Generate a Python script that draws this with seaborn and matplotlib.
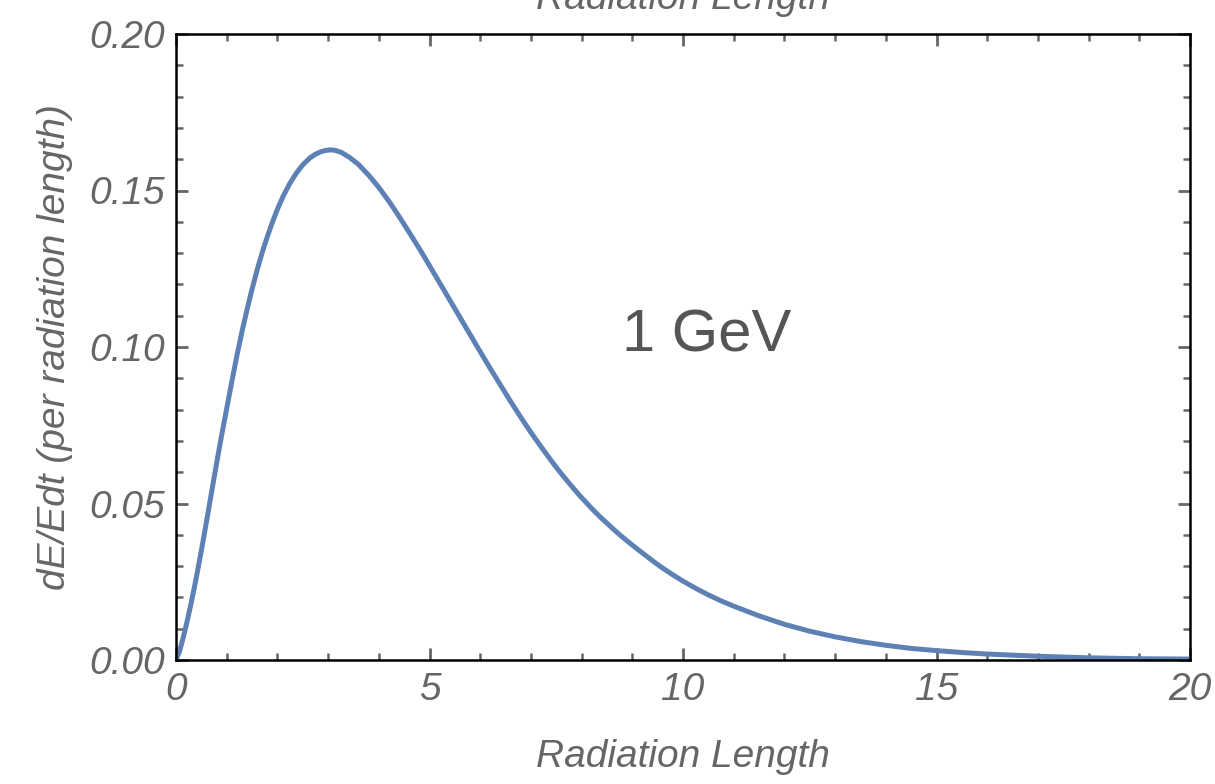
import matplotlib
matplotlib.use("Agg")
import matplotlib.pyplot as plt
from matplotlib.ticker import MultipleLocator, FormatStrFormatter
import pandas as pd
import seaborn as sns

# Longitudinal shower profile of a 1 GeV electron: depth (radiation lengths)
# and energy deposited per radiation length.
depth = [0.0, 0.07, 0.14, 0.2, 0.28, 0.36, 0.42, 0.48, 0.54, 0.6, 0.66,
         0.74, 0.82, 0.9, 1.0, 1.1, 1.2, 1.3, 1.4, 1.5, 1.6, 1.7, 1.8,
         1.9, 2.0, 2.12, 2.25, 2.38, 2.5, 2.64, 2.75, 2.86, 2.95, 3.05,
         3.15, 3.27, 3.43, 3.6, 3.8, 4.0, 4.22, 4.42, 4.62, 4.82, 5.01,
         5.2, 5.4, 5.6, 5.8, 6.0, 6.2, 6.39, 6.6, 6.79, 7.0, 7.18, 7.4,
         7.57, 7.8, 7.97, 8.2, 8.36, 8.6, 8.76, 9.0, 9.15, 9.4, 9.55, 9.8,
         10.0, 10.25, 10.5, 10.75, 11.0, 11.5, 12.0, 12.5, 13.0, 13.5,
         14.0, 14.5, 15.0, 15.5, 16.0, 17.0, 18.0, 19.0, 20.0]
dedt = [0.0, 0.0028, 0.0070, 0.0110, 0.0168, 0.0230, 0.0280, 0.0332,
        0.0386, 0.0441, 0.0497, 0.0572, 0.0646, 0.0718, 0.0803, 0.0889,
        0.0971, 0.1048, 0.1119, 0.1185, 0.1246, 0.1302, 0.1352, 0.1398,
        0.1440, 0.1484, 0.1524, 0.1557, 0.1582, 0.1604, 0.1616, 0.1624,
        0.1628, 0.1630, 0.1628, 0.1621, 0.1605, 0.1583, 0.1549, 0.1510,
        0.1461, 0.1412, 0.1361, 0.1309, 0.1257, 0.1205, 0.1150, 0.1095,
        0.1040, 0.0985, 0.0931, 0.0881, 0.0826, 0.0778, 0.0727, 0.0686,
        0.0637, 0.0601, 0.0556, 0.0524, 0.0484, 0.0458, 0.0422, 0.0399,
        0.0367, 0.0348, 0.0317, 0.0299, 0.0272, 0.0252, 0.0229, 0.0208,
        0.0189, 0.0172, 0.0141, 0.0114, 0.0092, 0.0074, 0.0059, 0.0047,
        0.0037, 0.0030, 0.0024, 0.0019, 0.0012, 0.0007, 0.0004, 0.0003]

x_major = [0, 5, 10, 15, 20]
y_major = [0.00, 0.05, 0.10, 0.15, 0.20]
energy_label = "1 GeV"
axis_label = "Radiation Length"
y_label = "dE/Edt (per radiation length)"

df = pd.DataFrame({"t": depth, "dEdt": dedt})

sns.set_style("ticks")
plt.rcParams["font.family"] = ["Liberation Sans", "DejaVu Sans"]

LINE = "#5E81B5"
GRAY = "#666666"

fig = plt.figure(figsize=(12.15, 7.84), dpi=100)
ax = fig.add_axes([176 / 1215, 1 - 660 / 784, (1190 - 176) / 1215, (660 - 34) / 784])

sns.lineplot(data=df, x="t", y="dEdt", ax=ax, color=LINE, linewidth=3.6,
             sort=False, clip_on=True, solid_joinstyle="round",
             solid_capstyle="round")

ax.set_xlim(x_major[0], x_major[-1])
ax.set_ylim(y_major[0], y_major[-1])
ax.set_xticks(x_major)
ax.set_yticks(y_major)
ax.xaxis.set_minor_locator(MultipleLocator(1))
ax.yaxis.set_minor_locator(MultipleLocator(0.01))
ax.xaxis.set_major_formatter(FormatStrFormatter("%d"))
ax.yaxis.set_major_formatter(FormatStrFormatter("%.2f"))

for s in ax.spines.values():
    s.set_visible(True)
    s.set_color("black")
    s.set_linewidth(1.8)

ax.tick_params(which="both", direction="in", top=True, right=True,
               color=GRAY, labelcolor=GRAY, labelsize=28)
ax.tick_params(which="major", length=8.5, width=2.0)
ax.tick_params(which="minor", length=5, width=1.8)
ax.tick_params(axis="x", which="major", pad=9)
ax.tick_params(axis="y", which="major", pad=8)
for lab in ax.get_xticklabels() + ax.get_yticklabels():
    lab.set_fontstyle("italic")

ax.set_xlabel(axis_label, fontsize=28, fontstyle="italic", color=GRAY, labelpad=22)
ax.set_ylabel(y_label, fontsize=28, fontstyle="italic", color=GRAY, labelpad=12)

# Mirrored axis caption along the top edge of the figure
fig.text(683 / 1215, 1 - 9 / 784, axis_label, ha="center", va="baseline",
         fontsize=28, fontstyle="italic", color=GRAY)

ax.text(10.47, 0.1035, energy_label, ha="center", va="center",
        fontsize=43, color="#555555")

fig.savefig("out.png", dpi=100, facecolor="white")
